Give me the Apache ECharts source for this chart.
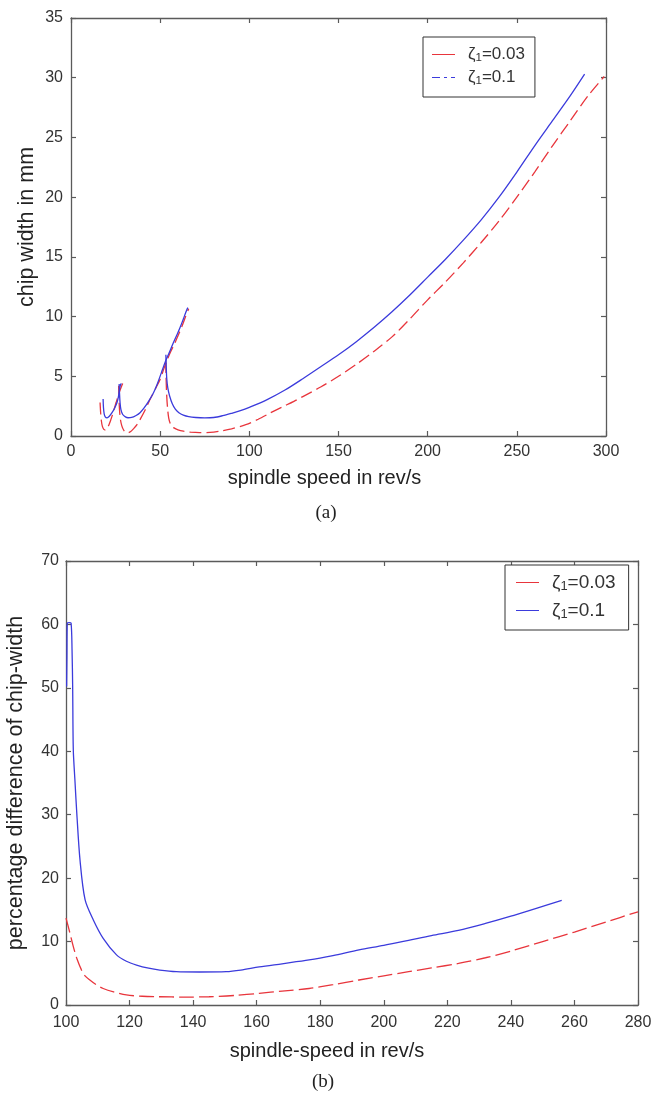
<!DOCTYPE html>
<html>
<head>
<meta charset="utf-8">
<script src="https://cdn.jsdelivr.net/npm/echarts/dist/echarts.min.js"></script>
<style>
  html, body { margin: 0; padding: 0; background: #fff; }
  #chart { width: 661px; height: 1102px; }
</style>
</head>
<body>
<div id="chart"></div>
<script>
// ---- (a) stability lobes, [speed rev/s, chip width mm] ----
var redA_lobe2 = [[16.3,2.8],[16.6,2.0],[17.0,1.3],[17.6,0.8],[18.4,0.55],[19.3,0.5],[20.3,0.65],[21.3,0.95],[22.3,1.35],[23.3,1.8],[24.3,2.3],[25.3,2.8],[26.3,3.3],[27.3,3.75],[28.3,4.15],[29.0,4.4]];
var redA_lobe1 = [[26.7,4.2],[26.9,3.2],[27.2,2.2],[27.7,1.4],[28.5,0.85],[29.5,0.5],[30.5,0.32],[32,0.28],[33.5,0.38],[35,0.6],[37,0.95],[39,1.45],[41.5,2.15],[44.3,3.06],[47,3.85],[50,4.75],[52,5.6],[54,6.4],[56,7.1],[58,7.7],[60,8.4],[62,9.1],[64,9.9],[66,10.65]];
var redA_lobe0 = [[53.1,6.3],[53.3,5.0],[53.6,3.6],[54.1,2.4],[54.8,1.5],[55.8,1.0],[57.5,0.7],[60,0.52],[63,0.4],[67,0.32],[72,0.28],[78,0.3],[84,0.42],[90,0.6],[98,0.95],[105,1.4],[112,1.95],[118,2.4],[125,2.9],[130,3.3],[140,4.1],[150,5.0],[160,6.0],[170,7.1],[180,8.3],[190,9.8],[200,11.4],[210,12.9],[220,14.5],[230,16.2],[240,18.0],[250,20.0],[260,22.1],[270,24.3],[280,26.4],[290,28.5],[299,30.1]];
var blueA_lobe2 = [[18.0,3.1],[18.2,2.4],[18.6,1.85],[19.3,1.58],[20.2,1.52],[21.5,1.65],[23.0,1.95],[24.5,2.35],[25.8,2.8],[26.6,3.3],[27.2,3.9],[27.8,4.3],[28.3,4.4]];
var blueA_lobe1 = [[27.0,4.35],[27.2,3.6],[27.5,2.8],[28.0,2.2],[29.0,1.8],[30.5,1.6],[32,1.53],[34,1.55],[36.5,1.72],[38.7,1.95],[41,2.35],[43.5,2.9],[46.2,3.6],[48.5,4.4],[50.8,5.35],[53,6.25],[55,6.95],[57.4,7.8],[59.5,8.5],[61.1,9.06],[63,9.8],[64.5,10.4],[65.5,10.75]];
var blueA_lobe0 = [[53.2,6.8],[53.4,5.8],[53.7,4.8],[54.3,4.0],[55.3,3.35],[56.8,2.7],[58.5,2.25],[60.5,1.95],[63,1.75],[66,1.62],[70,1.55],[75,1.52],[80,1.55],[85,1.7],[90,1.9],[95,2.12],[100,2.4],[110,3.05],[120,3.85],[130,4.8],[140,5.8],[150,6.8],[160,7.9],[170,9.1],[180,10.4],[190,11.8],[200,13.3],[210,14.8],[220,16.4],[230,18.1],[240,20.0],[250,22.1],[260,24.3],[270,26.4],[280,28.5],[288,30.3]];

// ---- (b) percentage difference of chip width ----
var redB = [[100,13.7],[101,11.8],[102.3,9.2],[103.5,7.2],[104.9,5.5],[106,4.6],[107.5,3.94],[109.5,3.2],[111.7,2.6],[115,2.05],[119,1.58],[124,1.38],[129.5,1.3],[137,1.25],[145,1.3],[153,1.5],[160.8,1.84],[168,2.2],[176.5,2.6],[184,3.2],[192.2,3.94],[200,4.6],[207.8,5.25],[215,5.85],[223.5,6.55],[232,7.45],[240,8.5],[250,10.0],[260,11.5],[270,13.1],[280,14.7]];
var blueB = [[100.2,50.2],[100.3,55],[100.4,60.2],[101.0,60.3],[101.6,60.2],[101.9,56],[102.1,50],[102.3,40.2],[102.8,35.5],[103.4,30.2],[104.4,22.9],[106,16.6],[108.6,13.4],[111.7,10.5],[115.9,7.9],[119,6.9],[122.2,6.3],[126,5.8],[129.5,5.5],[134.7,5.25],[142,5.2],[150.4,5.25],[155,5.5],[160.8,6.0],[168,6.5],[176.5,7.1],[184,7.8],[192.2,8.7],[200,9.4],[207.8,10.2],[215,10.95],[223.5,11.75],[232,12.85],[240,14.0],[248,15.25],[256,16.5]];

var zetaLabels = { a003: '0.03', a01: '0.1', b003: '0.03', b01: '0.1' };

var RED = '#e8353c';
var BLUE = '#3b3bdc';
var AXIS = '#5a5a5a';
var FONT = 'Liberation Sans';
// legend line samples drawn as thin filled shapes
var ICON_SOLID = 'path://M0,0h23v1h-23z';
var ICON_DASHDOT = 'path://M0,0h8v1h-8z M12,0h3v1h-3z M19,0h4v1h-4z';

var myChart = echarts.init(document.getElementById('chart'));

function axis(gridIndex, position, min, max, interval, showLabel, fontSize, margin) {
    return {
        type: 'value',
        gridIndex: gridIndex,
        position: position,
        min: min,
        max: max,
        interval: interval,
        axisLine: { show: true, onZero: false, lineStyle: { color: AXIS, width: 1.3 } },
        axisTick: { show: true, inside: true, length: 5, lineStyle: { color: AXIS, width: 1.2 } },
        axisLabel: { show: showLabel, color: '#333', fontSize: fontSize, fontFamily: FONT, margin: margin },
        splitLine: { show: false }
    };
}

function lineSeries(name, data, color, dashed, xi, yi) {
    return {
        type: 'line',
        name: name,
        data: data,
        xAxisIndex: xi,
        yAxisIndex: yi,
        symbol: 'none',
        smooth: 0.3,
        clip: true,
        lineStyle: { color: color, width: 1.3, type: dashed ? dashed : 'solid' },
        itemStyle: { color: color },
        silent: true
    };
}

function legendText(name) {
    return '{z|ζ}{s|1}{t|=' + zetaLabels[name] + '}';
}

function legendRich(size) {
    return {
        z: { fontSize: size, fontFamily: FONT, color: '#333', lineHeight: size + 2 },
        s: { fontSize: size * 0.68, fontFamily: FONT, color: '#333', verticalAlign: 'bottom', lineHeight: size * 0.68, padding: [size * 0.35, 0, 0, 0] },
        t: { fontSize: size, fontFamily: FONT, color: '#333', lineHeight: size + 2 }
    };
}

var dashA = [12, 5];
var dashB = [15, 5];

var xA = axis(0, 'bottom', 0, 300, 50, true, 16, 8);
xA.name = 'spindle speed in rev/s';
xA.nameLocation = 'middle';
xA.nameGap = 32;
xA.nameMoveOverlap = false;
xA.nameTextStyle = { fontSize: 20, fontFamily: FONT, color: '#222', padding: [0, 28, 0, 0] };
var yA = axis(0, 'left', 0, 35, 5, true, 16, 8);
yA.name = 'chip width in mm';
yA.nameLocation = 'middle';
yA.nameGap = 33;
yA.nameMoveOverlap = false;
yA.nameTextStyle = { fontSize: 21.5, fontFamily: FONT, color: '#222' };

var xB = axis(1, 'bottom', 100, 280, 20, true, 16, 10);
xB.name = 'spindle-speed in rev/s';
xB.nameLocation = 'middle';
xB.nameGap = 36;
xB.nameMoveOverlap = false;
xB.nameTextStyle = { fontSize: 20, fontFamily: FONT, color: '#222', padding: [0, 50, 0, 0] };
var yB = axis(1, 'left', 0, 70, 10, true, 16, 7);
yB.name = 'percentage difference of chip-width';
yB.nameLocation = 'middle';
yB.nameGap = 39;
yB.nameMoveOverlap = false;
yB.nameTextStyle = { fontSize: 21.5, fontFamily: FONT, color: '#222' };

var option = {
    backgroundColor: '#fff',
    animation: false,
    grid: [
        { left: 71, top: 18, width: 535, height: 418, containLabel: false, outerBoundsMode: 'none' },
        { left: 66, top: 561, width: 572, height: 444, containLabel: false, outerBoundsMode: 'none' }
    ],
    xAxis: [
        xA,
        axis(0, 'top', 0, 300, 50, false, 16, 8),
        xB,
        axis(1, 'top', 100, 280, 20, false, 16, 8)
    ],
    yAxis: [
        yA,
        axis(0, 'right', 0, 35, 5, false, 16, 8),
        yB,
        axis(1, 'right', 0, 70, 10, false, 16, 8)
    ],
    legend: [
        {
            orient: 'vertical', left: 423, top: 37,
            backgroundColor: '#fff', borderColor: '#333', borderWidth: 1,
            padding: [9, 10, 10, 9], itemWidth: 23, itemHeight: 1.4, itemGap: 5,
            selectedMode: false,
            data: [
                { name: 'a003', icon: ICON_SOLID },
                { name: 'a01', icon: ICON_DASHDOT }
            ],
            formatter: legendText,
            textStyle: { padding: [0, 0, 0, 8], rich: legendRich(17) }
        },
        {
            orient: 'vertical', left: 505, top: 565,
            backgroundColor: '#fff', borderColor: '#333', borderWidth: 1,
            padding: [8, 13, 9, 11], itemWidth: 23, itemHeight: 1.4, itemGap: 8,
            selectedMode: false,
            data: [
                { name: 'b003', icon: ICON_SOLID },
                { name: 'b01', icon: ICON_SOLID }
            ],
            formatter: legendText,
            textStyle: { padding: [0, 0, 0, 8], rich: legendRich(19) }
        }
    ],
    graphic: [
        { type: 'text', x: 326, y: 513, style: { text: '(a)', font: '19px "Liberation Serif"', fill: '#222', textAlign: 'center', textVerticalAlign: 'middle' } },
        { type: 'text', x: 323, y: 1082, style: { text: '(b)', font: '19px "Liberation Serif"', fill: '#222', textAlign: 'center', textVerticalAlign: 'middle' } }
    ],
    series: [
        lineSeries('a003', redA_lobe0, RED, dashA, 0, 0),
        lineSeries('a003', redA_lobe1, RED, dashA, 0, 0),
        lineSeries('a003', redA_lobe2, RED, dashA, 0, 0),
        lineSeries('a01', blueA_lobe0, BLUE, null, 0, 0),
        lineSeries('a01', blueA_lobe1, BLUE, null, 0, 0),
        lineSeries('a01', blueA_lobe2, BLUE, null, 0, 0),
        lineSeries('b003', redB, RED, dashB, 2, 2),
        lineSeries('b01', blueB, BLUE, null, 2, 2)
    ]
};

myChart.setOption(option);
window.addEventListener('resize', function () {
    myChart.resize();
});
</script>
</body>
</html>
